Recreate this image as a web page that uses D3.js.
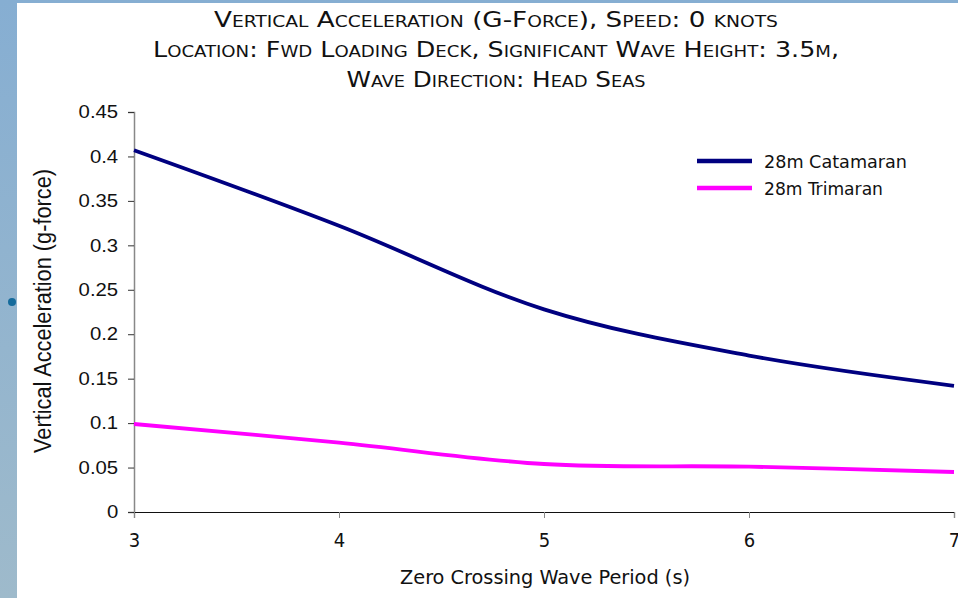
<!DOCTYPE html>
<html>
<head>
<meta charset="utf-8">
<script src="https://cdn.jsdelivr.net/npm/d3@7"></script>
<style>
html,body{margin:0;padding:0;background:#fff;}
svg{display:block;}
</style>
</head>
<body>
<svg id="chart" width="958" height="598"></svg>
<script>
const periods = [3, 4, 5, 6, 7];
const catamaran = [0.407, 0.322, 0.228, 0.176, 0.142];
const trimaran = [0.099, 0.078, 0.054, 0.051, 0.045];
const seriesNames = ["28m Catamaran", "28m Trimaran"];
const seriesColors = ["#000080", "#FF00FF"];
const yTicks = [0, 0.05, 0.1, 0.15, 0.2, 0.25, 0.3, 0.35, 0.4, 0.45];
const xTicks = [3, 4, 5, 6, 7];
const titleLines = [
  "Vertical Acceleration (G-Force), Speed: 0 knots",
  "Location: Fwd Loading Deck, Significant Wave Height: 3.5m,",
  "Wave Direction: Head Seas"
];
const xTitle = "Zero Crossing Wave Period (s)";
const yTitle = "Vertical Acceleration (g-force)";

const svg = d3.select("#chart");
const narrow = "'DejaVu Sans Condensed','Liberation Sans Narrow',sans-serif";
const sans = "'Liberation Sans',Arial,sans-serif";
const SX = 1.13; // horizontal stretch seen in the reference

// slide background
const defs = svg.append("defs");
const grad = defs.append("linearGradient").attr("id","bg").attr("x1",0).attr("y1",0).attr("x2",0).attr("y2",1);
grad.append("stop").attr("offset","0%").attr("stop-color","#86AED2");
grad.append("stop").attr("offset","100%").attr("stop-color","#9EBACB");
svg.append("rect").attr("x",0).attr("y",0).attr("width",958).attr("height",598).attr("fill","url(#bg)");
svg.append("rect").attr("x",17).attr("y",3).attr("width",941).attr("height",595).attr("fill","#fff");
svg.append("circle").attr("cx",12).attr("cy",302).attr("r",4).attr("fill","#156B9C");

const x = d3.scaleLinear().domain([3, 7]).range([134, 954]);
const y = d3.scaleLinear().domain([0, 0.45]).range([512, 112]);

// title
const titleWidths = [564, 686, 299];
svg.append("g").selectAll("text").data(titleLines).join("text")
  .attr("x", 496).attr("y", (d,i) => 27 + i*30)
  .attr("text-anchor","middle")
  .attr("textLength", (d,i) => titleWidths[i]).attr("lengthAdjust","spacingAndGlyphs")
  .style("font-family", narrow).style("font-size","21px")
  .style("font-variant","small-caps").attr("fill","#111")
  .text(d => d);

// y axis
const yAxis = d3.axisLeft(y).tickValues(yTicks).tickSize(6).tickPadding(8)
  .tickFormat(d => String(+d.toFixed(2)));
const gy = svg.append("g").attr("transform","translate(134,0)").call(yAxis);
gy.select(".domain").attr("stroke","#888").attr("stroke-width",1.5);
gy.selectAll(".tick line").attr("stroke","#333");
gy.selectAll("text").attr("transform",`scale(${SX},1)`)
  .style("font-family",sans).style("font-size","18px").attr("fill","#111");

// x axis
const xAxis = d3.axisBottom(x).tickValues(xTicks).tickSize(6).tickPadding(15).tickFormat(d3.format("d"));
const gx = svg.append("g").attr("transform","translate(0,512)").call(xAxis);
gx.select(".domain").attr("stroke","#111").attr("stroke-width",1.2);
gx.selectAll(".tick line").attr("stroke","#888");
gx.selectAll("text").style("font-family",narrow).style("font-size","20px").attr("fill","#111");

// axis titles
svg.append("text").attr("x",545).attr("y",584).attr("text-anchor","middle")
  .attr("textLength",290).attr("lengthAdjust","spacingAndGlyphs")
  .style("font-family",narrow).style("font-size","20px").attr("fill","#111").text(xTitle);
svg.append("text").attr("transform",`translate(51,311) scale(${SX},1) rotate(-90)`).attr("text-anchor","middle")
  .attr("textLength",284).attr("lengthAdjust","spacingAndGlyphs")
  .style("font-family",sans).style("font-size","21px").attr("fill","#111").text(yTitle);

// lines
const line = d3.line().x(d => x(d[0])).y(d => y(d[1])).curve(d3.curveCatmullRom.alpha(0));
[catamaran, trimaran].forEach((vals, i) => {
  svg.append("path").datum(periods.map((p, j) => [p, vals[j]]))
    .attr("d", line).attr("fill","none")
    .attr("stroke", seriesColors[i]).attr("stroke-width",3.8);
});

// legend
const legendWidths = [143, 119];
const lg = svg.append("g");
seriesNames.forEach((n, i) => {
  const ly = 161 + i*27;
  lg.append("line").attr("x1",697).attr("x2",752).attr("y1",ly).attr("y2",ly)
    .attr("stroke",seriesColors[i]).attr("stroke-width",4.5);
  lg.append("text").attr("x",764).attr("y",ly+7)
    .attr("textLength",legendWidths[i]).attr("lengthAdjust","spacingAndGlyphs")
    .style("font-family",narrow).style("font-size","18px").attr("fill","#111").text(n);
});
</script>
</body>
</html>
